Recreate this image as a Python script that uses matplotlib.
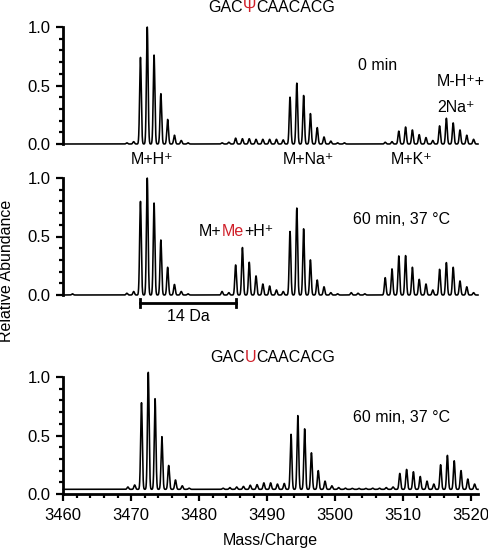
import numpy as np
import matplotlib
matplotlib.use("Agg")
import matplotlib.pyplot as plt
from matplotlib.ticker import MultipleLocator, FixedLocator

plt.rcParams['font.family'] = ['Liberation Sans', 'DejaVu Sans']

# ---------------- data (peak centres in m/z, relative heights) ----------------
# Panel 1: GACΨCAACACG, 0 min
p1_base = 0.0
p1_mz = [3469.35, 3470.35,
         3471.35, 3472.35, 3473.35, 3474.35, 3475.35, 3476.35, 3477.35, 3478.35,
         3483.35, 3484.35, 3485.35, 3486.35, 3487.35, 3488.35, 3489.35, 3490.35, 3491.35, 3492.35,
         3493.35, 3494.35, 3495.35, 3496.35, 3497.35, 3498.35, 3499.35, 3500.35, 3501.35,
         3507.35, 3508.35,
         3509.35, 3510.35, 3511.35, 3512.35, 3513.35, 3514.35,
         3515.35, 3516.35, 3517.35, 3518.35, 3519.35, 3520.35]
p1_int = [0.01, 0.02,
          0.74, 1.00, 0.76, 0.43, 0.21, 0.075, 0.03, 0.01,
          0.01, 0.015, 0.05, 0.045, 0.045, 0.04, 0.04, 0.04, 0.04, 0.035,
          0.40, 0.52, 0.415, 0.26, 0.14, 0.06, 0.025, 0.01, 0.01,
          0.015, 0.02,
          0.11, 0.145, 0.12, 0.08, 0.055, 0.03,
          0.155, 0.22, 0.18, 0.12, 0.075, 0.04]

# Panel 2: GACΨCAACACG, 60 min, 37 °C
p2_base = 0.0
p2_mz = [3461.35, 3469.35, 3470.35,
         3471.35, 3472.35, 3473.35, 3474.35, 3475.35, 3476.35, 3477.35, 3478.35,
         3483.35, 3484.35,
         3485.35, 3486.35, 3487.35, 3488.35, 3489.35, 3490.35, 3491.35, 3492.35,
         3493.35, 3494.35, 3495.35, 3496.35, 3497.35, 3498.35, 3499.35, 3500.35,
         3502.35, 3503.35, 3504.35,
         3507.35, 3508.35, 3509.35, 3510.35, 3511.35, 3512.35, 3513.35, 3514.35,
         3515.35, 3516.35, 3517.35, 3518.35, 3519.35, 3520.35]
p2_int = [0.01, 0.015, 0.03,
          0.80, 1.00, 0.786, 0.47, 0.237, 0.09, 0.03, 0.01,
          0.03, 0.02,
          0.257, 0.406, 0.28, 0.163, 0.094, 0.077, 0.043, 0.03,
          0.543, 0.743, 0.566, 0.30, 0.128, 0.07, 0.02, 0.01,
          0.02, 0.015, 0.01,
          0.148, 0.223, 0.334, 0.337, 0.237, 0.134, 0.094, 0.043,
          0.22, 0.277, 0.237, 0.12, 0.07, 0.02]

# Panel 3: GACUCAACACG, 60 min, 37 °C (offset baseline)
p3_base = 0.04
p3_mz = [3469.5, 3470.5,
         3471.5, 3472.5, 3473.5, 3474.5, 3475.5, 3476.5, 3477.5, 3478.5,
         3483.5, 3484.5, 3485.5, 3486.5, 3487.5, 3488.5, 3489.5, 3490.5, 3491.5, 3492.5,
         3493.5, 3494.5, 3495.5, 3496.5, 3497.5, 3498.5, 3499.5, 3500.5, 3501.5,
         3502.5, 3503.5, 3504.5, 3505.5, 3506.5, 3507.5, 3508.5,
         3509.5, 3510.5, 3511.5, 3512.5, 3513.5, 3514.5,
         3515.5, 3516.5, 3517.5, 3518.5, 3519.5, 3520.5]
p3_int = [0.02, 0.037,
          0.74, 1.00, 0.775, 0.45, 0.204, 0.08, 0.03, 0.01,
          0.01, 0.015, 0.02, 0.025, 0.035, 0.04, 0.055, 0.055, 0.045, 0.05,
          0.47, 0.63, 0.517, 0.312, 0.16, 0.07, 0.03, 0.015, 0.01,
          0.008, 0.008, 0.008, 0.01, 0.01, 0.015, 0.02,
          0.136, 0.17, 0.15, 0.11, 0.07, 0.045,
          0.21, 0.29, 0.244, 0.16, 0.088, 0.045]

x_ticks = [3460, 3470, 3480, 3490, 3500, 3510, 3520]
y_ticks = [0.0, 0.5, 1.0]
y_ticklabels = ["0.0", "0.5", "1.0"]

# ---------------- figure ----------------
W, H = 489, 551
fig = plt.figure(figsize=(W / 100, H / 100), dpi=100)


def fx(x):
    return x / W


def fy(y):
    return 1 - y / H


left_px, right_px = 63.3, 478
panels_px = [(27, 144), (178, 295), (377, 494)]
xmin, xmax = 3460, 3521
sigma = 0.12
grid = np.linspace(xmin, xmax, 6000)


def profile(mz, inten, base):
    y = np.full_like(grid, base)
    for m, h in zip(mz, inten):
        y += h * np.exp(-0.5 * ((grid - m) / sigma) ** 2)
    return y


TICK_FS = 12
axes = []
data = [(p1_mz, p1_int, p1_base), (p2_mz, p2_int, p2_base), (p3_mz, p3_int, p3_base)]
for i, ((top, bot), (mz, inten, base)) in enumerate(zip(panels_px, data)):
    ax = fig.add_axes([fx(left_px), fy(bot), (right_px - left_px) / W, (bot - top) / H])
    ax.plot(grid, profile(mz, inten, base), color='black', lw=1.15, clip_on=False)
    ax.set_xlim(xmin, xmax)
    ax.set_ylim(0, 1.0)
    ax.patch.set_visible(False)
    for s in ['top', 'right']:
        ax.spines[s].set_visible(False)
    ax.spines['left'].set_linewidth(2.0)
    ax.spines['left'].set_bounds(0, 1.0)
    ax.yaxis.set_major_locator(FixedLocator(y_ticks))
    ax.set_yticklabels(y_ticklabels)
    ax.yaxis.set_minor_locator(MultipleLocator(0.1))
    ax.tick_params(axis='y', which='major', direction='out', length=5, width=1.6,
                   labelsize=TICK_FS, pad=4)
    ax.tick_params(axis='y', which='minor', direction='out', length=3, width=1.6)
    if i < 2:
        ax.spines['bottom'].set_visible(False)
        ax.set_xticks([])
        ax.tick_params(axis='x', which='both', bottom=False, labelbottom=False)
    else:
        ax.spines['bottom'].set_linewidth(2.0)
        ax.set_xticks(x_ticks)
        ax.xaxis.set_minor_locator(MultipleLocator(2))
        ax.tick_params(axis='x', which='major', direction='out', length=5, width=1.6,
                       labelsize=TICK_FS, pad=5)
        ax.tick_params(axis='x', which='minor', direction='out', length=3, width=1.6)
    axes.append(ax)

FS = 11.5
RED = '#d0202a'


def multicolor(x, y, parts):
    prev = fig.text(fx(x), fy(y), parts[0][0], color=parts[0][1], fontsize=FS,
                    ha='left', va='center')
    for s, c in parts[1:]:
        prev = axes[0].annotate(s, xy=(1, 0.5), xycoords=prev,
                                ha='left', va='center', color=c,
                                fontsize=FS, annotation_clip=False)
    return prev


# titles
multicolor(208, 8, [("GAC", 'black'), ("Ψ", RED), ("CAACACG", 'black')])
multicolor(210, 357, [("GAC", 'black'), ("U", RED), ("CAACACG", 'black')])

# panel 1 annotations
fig.text(fx(378), fy(66), "0 min", fontsize=FS, ha='center', va='center')
fig.text(fx(437), fy(82), "M-H⁺+", fontsize=FS, ha='left', va='center')
fig.text(fx(437), fy(107), "2Na⁺", fontsize=FS, ha='left', va='center')
fig.text(fx(152), fy(160), "M+H⁺", fontsize=FS, ha='center', va='center')
fig.text(fx(308), fy(160), "M+Na⁺", fontsize=FS, ha='center', va='center')
fig.text(fx(412), fy(160), "M+K⁺", fontsize=FS, ha='center', va='center')

# panel 2 annotations
multicolor(199, 231, [("M+", 'black'), ("Me", RED), ("+H⁺", 'black')])
fig.text(fx(402), fy(219), "60 min, 37 °C", fontsize=FS, ha='center', va='center')

# 14 Da bar (panel 2 data coordinates)
ax2 = axes[1]
bar_y = -0.066
ax2.plot([3471.35, 3485.35], [bar_y, bar_y], color='black', lw=2.0, clip_on=False)
for xb in (3471.35, 3485.35):
    ax2.plot([xb, xb], [bar_y - 0.035, bar_y + 0.035], color='black', lw=2.0,
             clip_on=False)
ax2.text((3471.35 + 3485.35) / 2, -0.188, "14 Da", fontsize=FS, ha='center',
         va='center')

# panel 3 annotation
fig.text(fx(402), fy(418), "60 min, 37 °C", fontsize=FS, ha='center', va='center')

# axis labels
fig.text(fx(270.5), fy(541), "Mass/Charge", fontsize=FS, ha='center', va='center')
fig.text(fx(7), fy(271), "Relative Abundance", fontsize=FS, ha='center',
         va='center', rotation=90)

fig.savefig("out.png", dpi=100)
